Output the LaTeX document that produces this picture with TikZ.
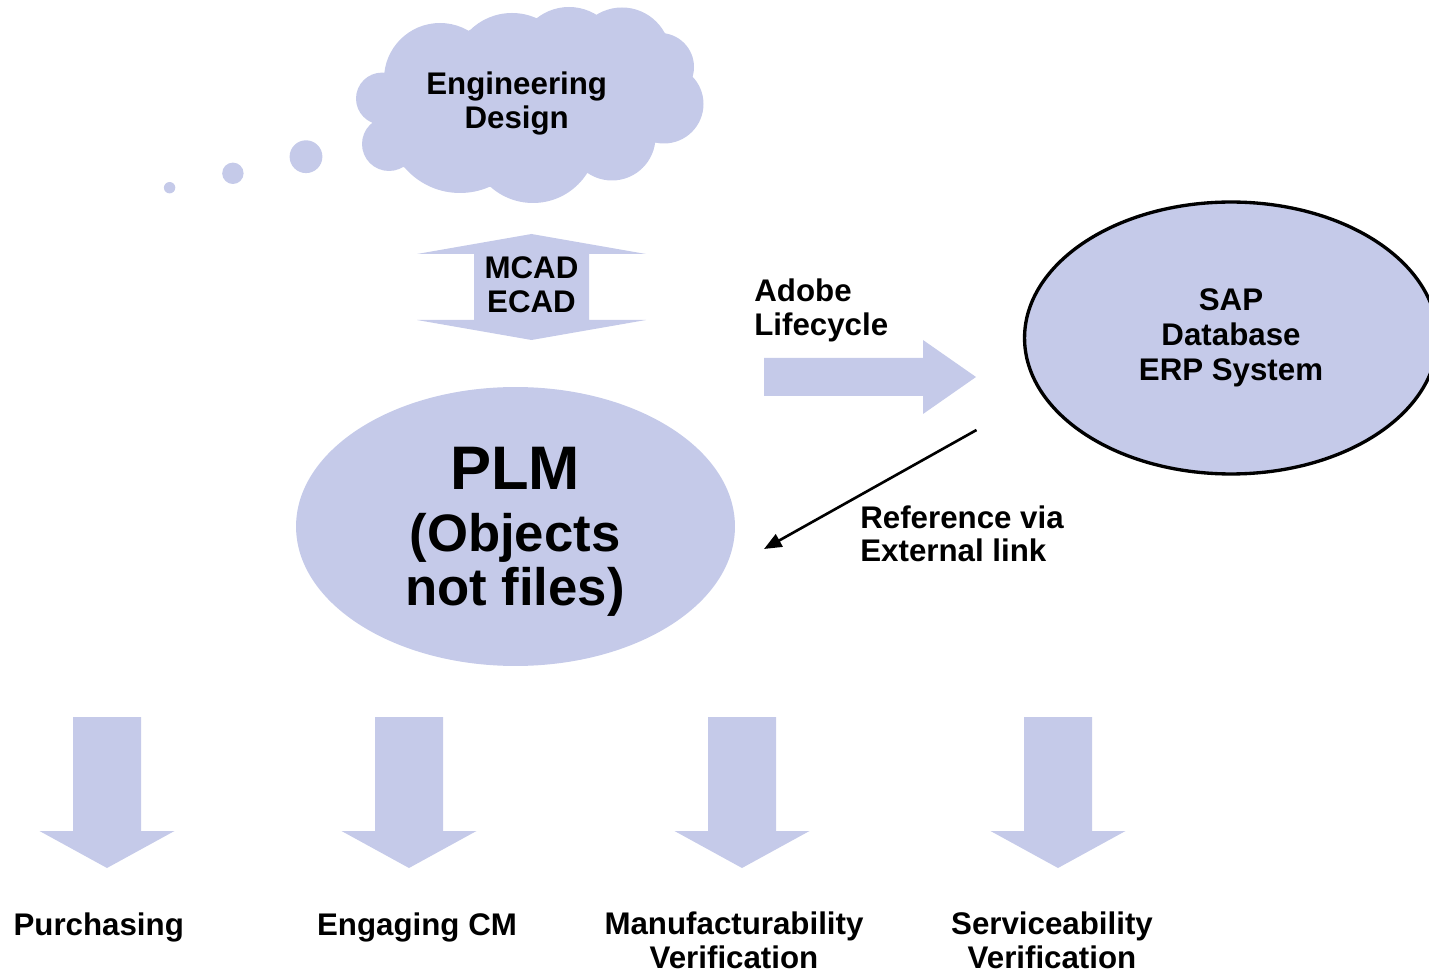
\documentclass[tikz,border=0pt]{standalone}
\usepackage{fontspec}
\setmainfont{Liberation Sans}
\usetikzlibrary{arrows.meta,shapes.geometric}
\definecolor{lav}{RGB}{197,202,233}
\begin{document}
\begin{tikzpicture}[x=0.02cm,y=0.02cm,
  lbl/.style={font=\bfseries\fontsize{17.8pt}{19.3pt}\selectfont, inner sep=0pt, align=center},
  blockarrow/.style={fill=lav, draw=none},
  refline/.style={line width=1.5pt, -{Triangle[length=10pt,width=8pt]}}]
\useasboundingbox (0,0) rectangle (1429,-972);

% thought bubble dots
\fill[blockarrow] (306,-156.7) circle[radius=16.4]
                  (232.9,-173.3) circle[radius=10.7]
                  (169.6,-187.7) circle[radius=5.7];

% cloud
\fill[blockarrow] (382,-98.6) circle[radius=26]
 (440,-79) circle[radius=56]
 (512,-73) circle[radius=60]
 (569,-59) circle[radius=52]
 (622,-56) circle[radius=48.5]
 (660,-67) circle[radius=34]
 (664,-104) circle[radius=39.5]
 (612,-137) circle[radius=43.5]
 (533,-139) circle[radius=64]
 (460,-120) circle[radius=73]
 (389,-144) circle[radius=27];
\fill[blockarrow] (387,-73) -- (470,-30) -- (537,-18) -- (597,-15) -- (665,-33) -- (692,-77)
  -- (655,-143) -- (587,-173) -- (490,-187) -- (403,-167) -- (373,-123) -- cycle;
\node[lbl] (eng) at (516.7,-103.4) {Engineering\\Design};

% MCAD / ECAD double arrow
\fill[blockarrow] (531.5,-234) -- (646,-254) -- (589,-254) -- (589,-320) -- (646,-320)
  -- (531.5,-340) -- (417,-320) -- (474,-320) -- (474,-254) -- (417,-254) -- cycle;
\node[lbl] (cad) at (531.5,-284.8) {MCAD\\ECAD};

% PLM ellipse
\node[ellipse, fill=lav, minimum width=8.78cm, minimum height=5.58cm, inner sep=0pt] (plm) at (515.5,-526.5) {};
\node[inner sep=0pt, align=center, font=\bfseries\fontsize{30pt}{31.2pt}\selectfont] (plmtext) at (515,-532)
      {{\fontsize{35pt}{31.2pt}\selectfont PLM}\\[3.9pt](Objects\\not files)};

% Adobe Lifecycle arrow
\fill[blockarrow] (764,-358) -- (923,-358) -- (923,-340) -- (976,-377) -- (923,-414)
  -- (923,-396) -- (764,-396) -- cycle;
\node[lbl, align=left, anchor=west] (adobe) at (754,-310.5) {Adobe\\Lifecycle};

% SAP ellipse
\node[ellipse, draw=black, line width=1.9pt, fill=lav, minimum width=8.26cm, minimum height=5.44cm,
      inner sep=0pt, align=center, font=\bfseries\fontsize{17.8pt}{19.8pt}\selectfont]
      (sap) at (1231,-338) {SAP\\Database\\ERP System};

% reference arrow
\coordinate (refs) at (976.5,-430);
\coordinate (refe) at (764,-549);
\draw[refline] (refs) -- (refe);
\node[lbl, align=left, anchor=west] (refl) at (860,-533.8) {Reference via\\External link};

% bottom arrows
\foreach \cx in {107,409,742,1058}
  \fill[blockarrow] (\cx-34,-717) -- (\cx+34,-717) -- (\cx+34,-831) -- (\cx+67.5,-831)
    -- (\cx,-868) -- (\cx-67.5,-831) -- (\cx-34,-831) -- cycle;

\node[lbl] (purch) at (98.7,-927) {Purchasing};
\node[lbl] (cm) at (417,-927) {Engaging CM};
\node[lbl] (manu) at (734,-940.7) {Manufacturability\\Verification};
\node[lbl] (serv) at (1052,-940.7) {Serviceability\\Verification};
\end{tikzpicture}
\end{document}
